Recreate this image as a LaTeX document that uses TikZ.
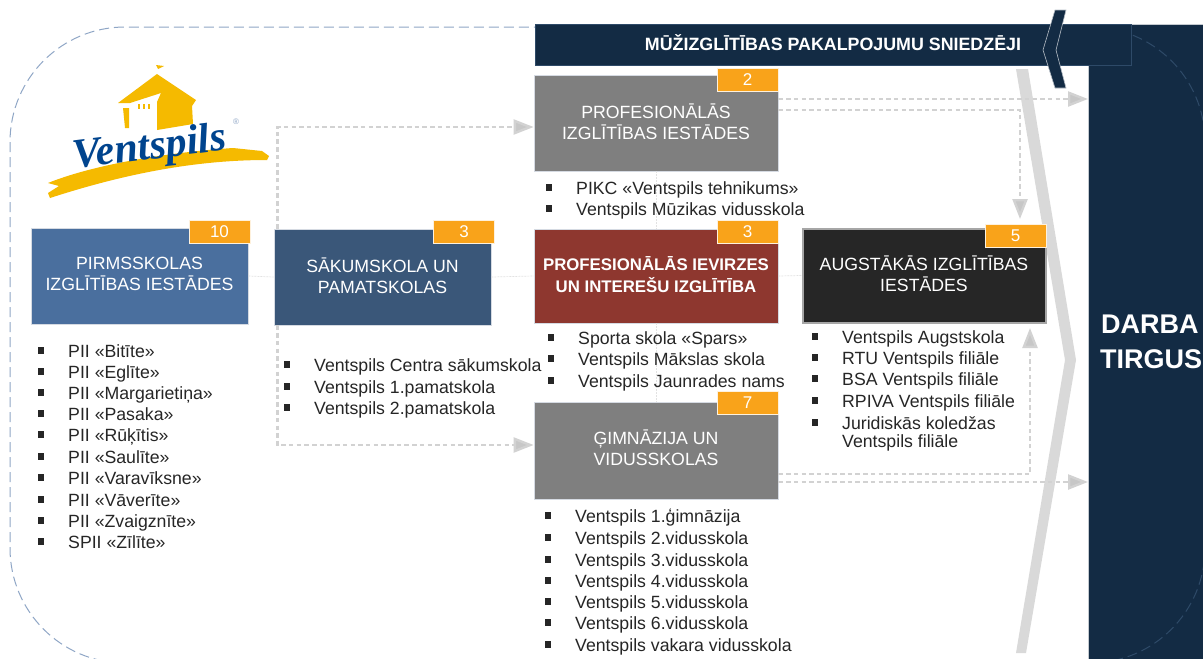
\documentclass[tikz,border=0pt]{standalone}
\usepackage{fontspec}
\setmainfont{Liberation Sans}
\newfontfamily\logofont{Liberation Serif}
\usetikzlibrary{arrows.meta}
\definecolor{navy}{HTML}{132B44}
\definecolor{navyedge}{HTML}{2E4A68}
\definecolor{outlineblue}{HTML}{8FA6C6}
\definecolor{orangeb}{HTML}{F9A31A}
\definecolor{flowgray}{HTML}{D2D2D2}
\definecolor{chevgray}{HTML}{D9D9D9}
\definecolor{faint}{HTML}{E2E2E2}
\definecolor{listtext}{HTML}{262626}
\definecolor{logoyellow}{HTML}{F5BA00}
\definecolor{logoblue}{HTML}{00448E}
\definecolor{boxedge}{HTML}{D5DAE2}
\tikzset{
  box/.style={draw=boxedge,line width=.8pt,minimum width=244pt,minimum height=96pt,inner sep=0pt,text=white,align=center,text depth=3.5pt,font=\fontsize{17.7}{21}\selectfont},
  badge/.style={fill=orangeb,draw=white!85!orangeb,line width=.6pt,minimum width=61pt,minimum height=23pt,inner sep=0pt,text=white,font=\fontsize{17}{18}\selectfont},
  flow/.style={draw=flowgray,line width=2.4pt,dash pattern=on 4.5pt off 3.2pt,-{Triangle[length=20pt,width=15pt,fill=flowgray!95!black]}},
  thinlink/.style={draw=faint,line width=.7pt,dash pattern=on 2pt off 1pt},
  item/.style={anchor=base west,inner sep=0pt,text=listtext,font=\fontsize{17.7}{18}\selectfont},
  dot/.style={fill=listtext,minimum size=6.5pt,inner sep=0pt}
}
\newcommand{\listrow}[3]{%
  \node[dot] at (#1-27,#2-0.5) {};
  \node[item] at (#1,#2+6) {#3};
}
\begin{document}
\begin{tikzpicture}[x=1pt,y=-1pt]
\useasboundingbox (0,0) rectangle (1203,659);
\fill[white] (0,0) rectangle (1203,659);
% dashed outline
\draw[outlineblue,line width=1pt,dash pattern=on 10pt off 5pt,rounded corners=115pt] (10,27) rectangle (1205,663);
% panel
\node[fill=navy,draw=white!75!navy,line width=.6pt,minimum width=125pt,minimum height=640pt,anchor=north west,inner sep=0pt] (panel) at (1088,24) {};
\begin{scope}
\clip (1088,24) rectangle (1203,659);
\draw[navyedge,line width=1pt,dash pattern=on 10pt off 5pt,rounded corners=115pt] (10,27) rectangle (1205,663);
\end{scope}
% big chevron
\fill[chevgray] (1016,69) -- (1028,69) -- (1076,360) -- (1026,653) -- (1016,653) -- (1065,360) -- cycle;
% boxes
\node[box,fill={rgb,255:red,74;green,111;blue,158},minimum width=217pt] (pre) at (139.5,276) {PIRMSSKOLAS\\IZGLĪTĪBAS IESTĀDES};
\node[box,fill={rgb,255:red,58;green,87;blue,121},minimum width=217pt] (sak) at (382.5,277) {SĀKUMSKOLA UN\\PAMATSKOLAS};
\node[box,fill={rgb,255:red,127;green,127;blue,127}] (prof) at (656,123) {PROFESIONĀLĀS\\IZGLĪTĪBAS IESTĀDES};
\node[box,fill={rgb,255:red,142;green,55;blue,47},minimum height=94pt,font=\fontsize{16.8}{22}\selectfont\bfseries] (iev) at (656,276) {PROFESIONĀLĀS IEVIRZES\\UN INTEREŠU IZGLĪTĪBA};
\node[box,fill={rgb,255:red,127;green,127;blue,127},minimum height=97pt,text depth=5pt] (gim) at (656,450.5) {ĢIMNĀZIJA UN\\VIDUSSKOLAS};
\node[fill={rgb,255:red,38;green,38;blue,38},draw={rgb,255:red,166;green,166;blue,166},line width=2pt,minimum width=243pt,minimum height=94pt,inner sep=0pt,text=white,align=center,text depth=3.5pt,font=\fontsize{17.7}{21}\selectfont] (aug) at (924,275.5) {AUGSTĀKĀS IZGLĪTĪBAS\\IESTĀDES};
% faint links
\draw[thinlink] (pre.east) -- (sak.west);
\draw[thinlink] (sak.east) -- (iev.west);
\draw[thinlink] (iev.east) -- (aug.west);
\draw[thinlink] (prof.south) -- (iev.north);
\draw[thinlink] (iev.south) -- (gim.north);
% flows
\coordinate (augTop) at (1020,219);
\coordinate (augBottom) at (1030,328);
\draw[flow] ([xshift=4pt]sak.north west) |- ([yshift=-4pt]prof.west);
\draw[flow] ([xshift=4pt]sak.south west) |- ([yshift=5.5pt]gim.west);
\draw[flow] ([yshift=24pt]prof.east) -- ([yshift=24pt]prof.east -| panel.west);
\draw[flow] ([yshift=13pt]prof.east) -| (augTop);
\draw[flow] ([yshift=-23.5pt]gim.east) -| (augBottom);
\draw[flow] ([yshift=-31.5pt]gim.east) -- ([yshift=-31.5pt]gim.east -| panel.west);
% badges
\node[badge] (b1) at (219.5,232) {10};
\node[badge] (b2) at (464,232) {3};
\node[badge] (b3) at (747.5,79.5) {2};
\node[badge] (b4) at (747.5,231.5) {3};
\node[badge] (b5) at (747.5,403) {7};
\node[badge] (b6) at (1015.5,235.5) {5};
% top bar
\node[fill=navy,draw=navyedge,line width=.8pt,minimum width=596pt,minimum height=41pt,anchor=north west,inner sep=0pt] (bar) at (535,24) {};
\node[text=white,inner sep=0pt,font=\fontsize{17.6}{18}\selectfont\bfseries] (bartext) at (833,42.5) {\resizebox{376pt}{!}{MŪŽIZGLĪTĪBAS PAKALPOJUMU SNIEDZĒJI}};
\draw[fill=navy,draw=white!70!navy,line width=.6pt] (1055,10) -- (1066,10) -- (1056,50) -- (1066,88) -- (1055,88) -- (1043,50) -- cycle;
% market
\node[anchor=base west,inner sep=0pt,text=white,font=\fontsize{27}{34}\selectfont\bfseries] (mk1) at (1101,333) {DARBA};
\node[anchor=base west,inner sep=0pt,text=white,font=\fontsize{27}{34}\selectfont\bfseries] (mk2) at (1100,368) {TIRGUS};
% logo
\fill[logoyellow] (48,183) .. controls (90,166) and (160,153) .. (233,148) -- (262,151) -- (269,156) -- (267,160) .. controls (200,160) and (130,172) .. (50,198) -- (48,193) -- (59,186) -- cycle;
\fill[logoyellow] (157,74) -- (196,100) -- (192,106) -- (193,124) -- (157,130) -- (157,102) -- (161,93) -- (130,103) -- (118,103) -- cycle;
\fill[logoyellow] (123,108) -- (129,108) -- (129,128) -- (125,128) -- cycle;
\fill[logoyellow] (156,65) -- (164,66) -- (158,69) -- cycle;
\foreach \i in {138,143,148} \fill[logoyellow] (\i,104) rectangle +(1.5,5);
\node[rotate=7,inner sep=0pt,text=logoblue,font=\logofont\fontsize{42}{42}\selectfont\bfseries\itshape] (logo) at (150,149) {Ventspils};
\node[inner sep=0pt,text=outlineblue,font=\fontsize{8}{8}\selectfont] (reg) at (236,122) {®};
% lists
\listrow{68}{351}{PII «Bitīte»}
\listrow{68}{372}{PII «Eglīte»}
\listrow{68}{393}{PII «Margarietiņa»}
\listrow{68}{414}{PII «Pasaka»}
\listrow{68}{435}{PII «Rūķītis»}
\listrow{68}{457}{PII «Saulīte»}
\listrow{68}{478}{PII «Varavīksne»}
\listrow{68}{500}{PII «Vāverīte»}
\listrow{68}{521}{PII «Zvaigznīte»}
\listrow{68}{542}{SPII «Zīlīte»}
\listrow{314}{365}{Ventspils Centra sākumskola}
\listrow{314}{387}{Ventspils 1.pamatskola}
\listrow{314}{408}{Ventspils 2.pamatskola}
\listrow{576}{188}{PIKC «Ventspils tehnikums»}
\listrow{576}{209}{Ventspils Mūzikas vidusskola}
\listrow{578}{338}{Sporta skola «Spars»}
\listrow{578}{359}{Ventspils Mākslas skola}
\listrow{578}{381}{Ventspils Jaunrades nams}
\listrow{575}{516}{Ventspils 1.ģimnāzija}
\listrow{575}{538}{Ventspils 2.vidusskola}
\listrow{575}{560}{Ventspils 3.vidusskola}
\listrow{575}{581}{Ventspils 4.vidusskola}
\listrow{575}{602}{Ventspils 5.vidusskola}
\listrow{575}{623}{Ventspils 6.vidusskola}
\listrow{575}{645}{Ventspils vakara vidusskola}
\listrow{842}{337}{Ventspils Augstskola}
\listrow{842}{358}{RTU Ventspils filiāle}
\listrow{842}{379}{BSA Ventspils filiāle}
\listrow{842}{401}{RPIVA Ventspils filiāle}
\listrow{842}{423}{Juridiskās koledžas}
\node[item] at (842,447) {Ventspils filiāle};
\end{tikzpicture}
\end{document}
